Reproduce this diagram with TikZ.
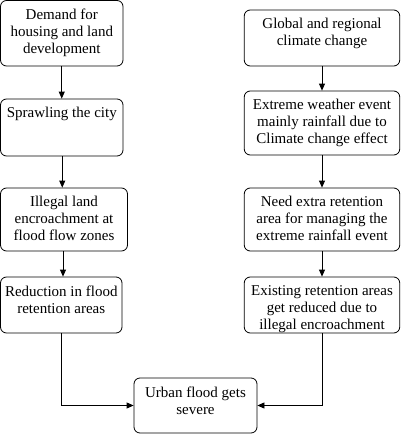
\documentclass[tikz,border=0pt]{standalone}
\usepackage{fontspec}
\setmainfont{Liberation Serif}
\usetikzlibrary{arrows.meta}
\begin{document}
\begin{tikzpicture}[x=1pt,y=-1pt,
  boxst/.style={draw, rounded corners=6pt, line width=0.8pt, inner sep=0pt},
  txt/.style={anchor=north, align=center, inner sep=0pt, font=\fontsize{15}{17}\selectfont},
  conn/.style={draw, line width=0.8pt, -{Triangle[length=7pt,width=6pt]}}]
\useasboundingbox (0,0) rectangle (401,434);
% boxes
\node[boxst, minimum width=122.5pt, minimum height=65.5pt] (L1) at (61.75,33.25) {};
\node[boxst, minimum width=122.5pt, minimum height=57pt] (L2) at (61.75,127.5) {};
\node[boxst, minimum width=127pt, minimum height=63pt] (L3) at (64,219.5) {};
\node[boxst, minimum width=121.5pt, minimum height=56pt] (L4) at (61.25,305) {};
\node[boxst, minimum width=155.5pt, minimum height=56pt] (R1) at (322,38) {};
\node[boxst, minimum width=155.5pt, minimum height=64pt] (R2) at (322,123) {};
\node[boxst, minimum width=155.5pt, minimum height=63pt] (R3) at (322,219.5) {};
\node[boxst, minimum width=155.5pt, minimum height=56pt] (R4) at (322,305) {};
\node[boxst, minimum width=123pt, minimum height=55pt] (B) at (195.5,405.5) {};
% texts
\node[txt] (tL1) at ([yshift=-8.7pt]L1.north) {Demand for\\housing and land\\development};
\node[txt] (tL2) at ([yshift=-8.7pt]L2.north) {Sprawling the city};
\node[txt] (tL3) at ([yshift=-8.7pt]L3.north) {Illegal land\\encroachment at\\flood flow zones};
\node[txt] (tL4) at ([yshift=-8.7pt]L4.north) {Reduction in flood\\retention areas};
\node[txt] (tR1) at ([yshift=-8.7pt]R1.north) {Global and regional\\climate change};
\node[txt] (tR2) at ([yshift=-8.7pt]R2.north) {Extreme weather event\\mainly rainfall due to\\Climate change effect};
\node[txt] (tR3) at ([yshift=-8.7pt]R3.north) {Need extra retention\\area for managing the\\extreme rainfall event};
\node[txt] (tR4) at ([yshift=-8.7pt]R4.north) {Existing retention areas\\get reduced due to\\illegal encroachment};
\node[txt] (tB) at ([yshift=-8.7pt]B.north) {Urban flood gets\\severe};
% connectors
\draw[conn] (L1.south) -- (L2.north);
\draw[conn] ([xshift=0.5pt]L2.south) -- ([xshift=0.5pt]L2.south |- L3.north);
\draw[conn] ([xshift=-1pt]L3.south) -- ([xshift=-1pt]L3.south |- L4.north);
\draw[conn] (R1.south) -- (R2.north);
\draw[conn] (R2.south) -- (R3.north);
\draw[conn] (R3.south) -- (R4.north);
\draw[conn] (L4.south) |- (B.west);
\draw[conn] (R4.south) |- (B.east);
\end{tikzpicture}
\end{document}
